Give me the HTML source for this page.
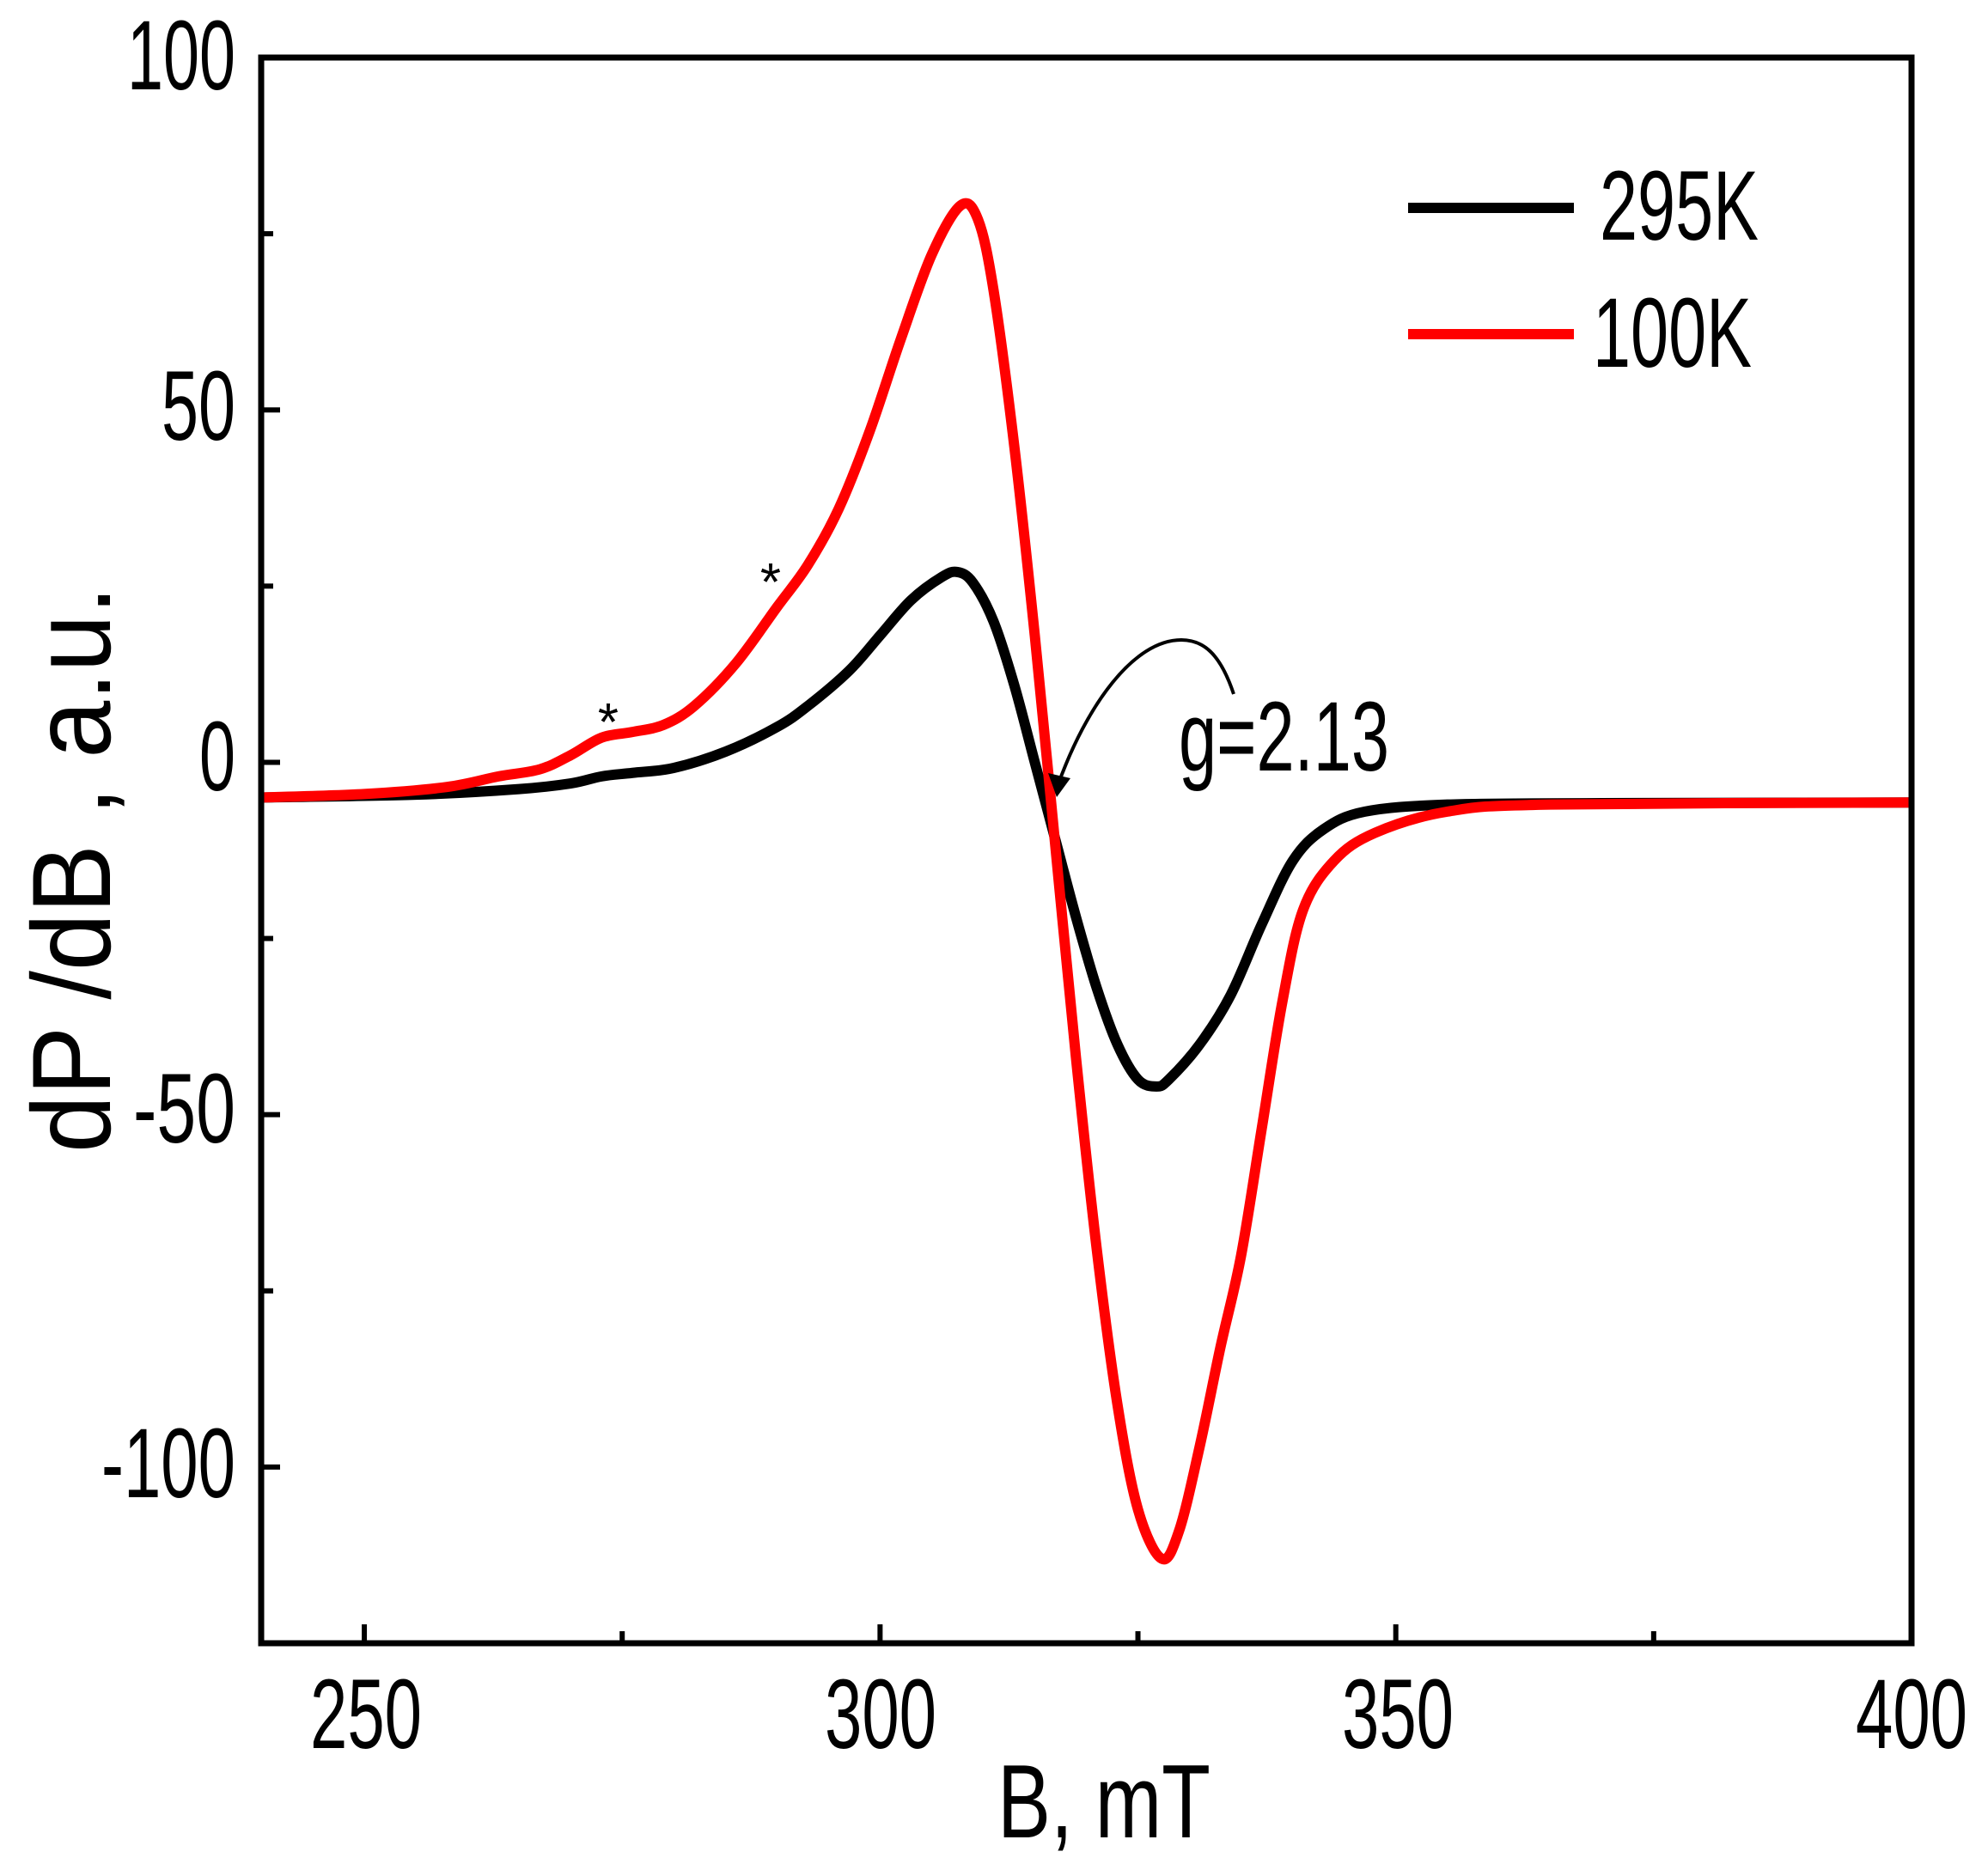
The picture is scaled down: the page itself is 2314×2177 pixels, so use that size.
<!DOCTYPE html>
<html><head><meta charset="utf-8"><style>
html,body{margin:0;padding:0;background:#fff}
svg text{font-family:"Liberation Sans Narrow","Liberation Sans",sans-serif}
</style></head><body>
<svg id="s" width="2314" height="2172" viewBox="0 0 2314 2172" xmlns="http://www.w3.org/2000/svg">
<rect width="2314" height="2172" fill="#fff"/>
<g id="ticks" stroke="#000" stroke-width="6"></g>
<path id="blk" fill="none" stroke="#000" stroke-width="12" stroke-linejoin="round"/>
<path id="red" fill="none" stroke="#f00" stroke-width="12" stroke-linejoin="round"/>
<rect x="304" y="67" width="1921" height="1846" fill="none" stroke="#000" stroke-width="7"/>
<g font-size="115" fill="#000">
<text x="274" y="104" text-anchor="end" textLength="126" lengthAdjust="spacingAndGlyphs">100</text>
<text x="274" y="512" text-anchor="end" textLength="86" lengthAdjust="spacingAndGlyphs">50</text>
<text x="274" y="920" text-anchor="end" textLength="42" lengthAdjust="spacingAndGlyphs">0</text>
<text x="274" y="1330" text-anchor="end" textLength="119" lengthAdjust="spacingAndGlyphs">-50</text>
<text x="274" y="1743" text-anchor="end" textLength="156" lengthAdjust="spacingAndGlyphs">-100</text>
<text x="361" y="2035" textLength="130" lengthAdjust="spacingAndGlyphs">250</text>
<text x="960" y="2035" textLength="130" lengthAdjust="spacingAndGlyphs">300</text>
<text x="1562" y="2035" textLength="130" lengthAdjust="spacingAndGlyphs">350</text>
<text x="2160" y="2035" textLength="130" lengthAdjust="spacingAndGlyphs">400</text>
<text x="1862" y="279" textLength="185" lengthAdjust="spacingAndGlyphs">295K</text>
<text x="1854" y="427" textLength="185" lengthAdjust="spacingAndGlyphs">100K</text>
<text x="1372" y="897" textLength="245" lengthAdjust="spacingAndGlyphs">g=2.13</text>
</g>
<line x1="1639" y1="242" x2="1832" y2="242" stroke="#000" stroke-width="12"/>
<line x1="1639" y1="389" x2="1832" y2="389" stroke="#f00" stroke-width="12"/>
<text x="708" y="862" font-size="62" text-anchor="middle">*</text>
<text x="897" y="699" font-size="62" text-anchor="middle">*</text>
<path d="M1436,808 C1420,760 1400,745 1375,745 C1320,745 1265,820 1231,915" fill="none" stroke="#000" stroke-width="4"/>
<path d="M1220,900 L1230,928 L1246,906 Z" fill="#000"/>
<text x="1161" y="2139" font-size="122" textLength="248" lengthAdjust="spacingAndGlyphs">B, mT</text>
<text font-size="130" x="0" y="0" textLength="660" lengthAdjust="spacingAndGlyphs" transform="translate(128,1342) rotate(-90)">dP /dB ,  a.u.</text>
</svg>
<script>
function X(v){return 304+(v-240)*1921/160}
function Y(v){return 67+(100-v)*1846/225}
var t=document.getElementById('ticks'),h='';
[250,275,300,325,350,375].forEach(function(v){var L=(v%50==0)?22:14;h+='<line x1="'+X(v)+'" y1="1913" x2="'+X(v)+'" y2="'+(1913-L)+'"/>';});
[-125,-100,-75,-50,-25,0,25,50,75].forEach(function(v){var L=(v%50==0)?22:14;h+='<line x1="304" y1="'+Y(v)+'" x2="'+(304+L)+'" y2="'+Y(v)+'"/>';});
t.innerHTML=h;
function path(p){var q=p.map(function(a){return [X(a[0]),Y(a[1])]});var d='M'+q[0][0]+','+q[0][1];
for(var i=0;i<q.length-1;i++){var p0=q[i-1]||q[i],p1=q[i],p2=q[i+1],p3=q[i+2]||q[i+1];
d+=' C'+(p1[0]+(p2[0]-p0[0])/6)+','+(p1[1]+(p2[1]-p0[1])/6)+' '+(p2[0]-(p3[0]-p1[0])/6)+','+(p2[1]-(p3[1]-p1[1])/6)+' '+p2[0]+','+p2[1];}
return d;}
var B=[[240,-5],[255,-4.6],[265,-3.8],[270,-3],[273,-2],[276,-1.5],[280,-0.8],[285,1.5],[290,5],[293,8],[297,13],[300,18],[303,23],[306,26.3],[307.5,27],[309,25.5],[311,20],[313,11],[315,0],[317,-11],[319,-22],[321,-32],[323,-40],[325,-45],[326.8,-46],[328,-45],[331,-40],[334,-33],[337,-23],[340,-14],[343,-9.5],[347,-7],[355,-6],[370,-5.8],[400,-5.7]];
var R=[[240,-5],[250,-4.5],[258,-3.5],[263,-2],[267,-1],[270,1],[273,3.5],[276,4.3],[279,5.3],[282,8],[286,14],[290,22],[293,28],[296,36],[299,47],[302,60],[305,72],[307.8,79],[309.5,77],[311,67],[313,45],[315,18],[317,-12],[319,-42],[321,-69],[323,-91],[325,-106],[327.3,-113],[329,-109],[331,-97],[333,-83],[335,-70],[337,-52],[339,-34],[341,-21],[344,-14],[348,-10],[355,-7],[365,-6],[400,-5.7]];
document.getElementById('blk').setAttribute('d',path(B));
document.getElementById('red').setAttribute('d',path(R));
</script>
</body></html>
